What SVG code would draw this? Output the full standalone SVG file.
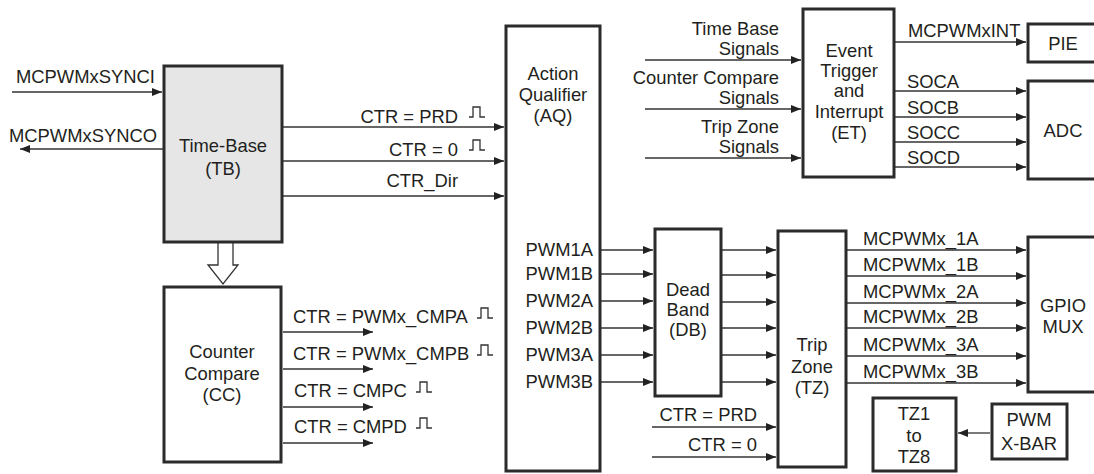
<svg xmlns="http://www.w3.org/2000/svg" width="1094" height="474" viewBox="0 0 1094 474">
<style>
.box{fill:#fff;stroke:#2b2b2b;stroke-width:3}
.tb{fill:#e6e6e6}
.ln{fill:none;stroke:#333;stroke-width:1.3;marker-end:url(#ah)}
text{font-family:"Liberation Sans",Arial,sans-serif;font-size:18.4px;fill:#231f20}
.m{text-anchor:middle}
.e{text-anchor:end}
</style>
<defs>
<marker id="ah" viewBox="0 0 10 8" refX="10" refY="4" markerWidth="10" markerHeight="8" orient="auto" markerUnits="userSpaceOnUse"><path d="M0,0 L10,4 L0,8 z" fill="#222"/></marker>
<path id="pulse" d="M0,10 h4 v-10 h7 v10 h5" fill="none" stroke="#333" stroke-width="1.3"/>
</defs>

<g id="connectors">
<line class="ln" x1="12" y1="92" x2="162" y2="92"/>
<line class="ln" x1="163" y1="149" x2="20" y2="149"/>
<line class="ln" x1="283" y1="127" x2="504" y2="127"/>
<line class="ln" x1="283" y1="161" x2="504" y2="161"/>
<line class="ln" x1="283" y1="196" x2="504" y2="196"/>
<path d="M218,243 V265 H208 L223,284 L238,265 H233 V243" fill="#fff" stroke="#333" stroke-width="1.3"/>
<line class="ln" x1="283" y1="332" x2="373" y2="332"/>
<line class="ln" x1="283" y1="369" x2="373" y2="369"/>
<line class="ln" x1="283" y1="407" x2="373" y2="407"/>
<line class="ln" x1="283" y1="443" x2="373" y2="443"/>
<line class="ln" x1="645" y1="60" x2="801" y2="60"/>
<line class="ln" x1="645" y1="109" x2="801" y2="109"/>
<line class="ln" x1="645" y1="158" x2="801" y2="158"/>
<line class="ln" x1="895" y1="42" x2="1026" y2="42"/>
<line class="ln" x1="895" y1="91" x2="1026" y2="91"/>
<line class="ln" x1="895" y1="117" x2="1026" y2="117"/>
<line class="ln" x1="895" y1="142" x2="1026" y2="142"/>
<line class="ln" x1="895" y1="167" x2="1026" y2="167"/>
<line class="ln" x1="601" y1="250" x2="653" y2="250"/>
<line class="ln" x1="601" y1="274" x2="653" y2="274"/>
<line class="ln" x1="601" y1="301" x2="653" y2="301"/>
<line class="ln" x1="601" y1="328" x2="653" y2="328"/>
<line class="ln" x1="601" y1="355" x2="653" y2="355"/>
<line class="ln" x1="601" y1="382" x2="653" y2="382"/>
<line class="ln" x1="722" y1="250" x2="776" y2="250"/>
<line class="ln" x1="722" y1="275" x2="776" y2="275"/>
<line class="ln" x1="722" y1="302" x2="776" y2="302"/>
<line class="ln" x1="722" y1="328" x2="776" y2="328"/>
<line class="ln" x1="722" y1="355" x2="776" y2="355"/>
<line class="ln" x1="722" y1="382" x2="776" y2="382"/>
<line class="ln" x1="652" y1="427" x2="776" y2="427"/>
<line class="ln" x1="652" y1="457" x2="776" y2="457"/>
<line class="ln" x1="847" y1="250" x2="1026" y2="250"/>
<line class="ln" x1="847" y1="276" x2="1026" y2="276"/>
<line class="ln" x1="847" y1="303" x2="1026" y2="303"/>
<line class="ln" x1="847" y1="328" x2="1026" y2="328"/>
<line class="ln" x1="847" y1="356" x2="1026" y2="356"/>
<line class="ln" x1="847" y1="383" x2="1026" y2="383"/>
<line class="ln" x1="990" y1="433" x2="958" y2="433"/>
</g>

<g id="tb">
<rect class="box tb" x="164" y="66" width="118" height="176"/>
<text class="m" x="223" y="152">Time-Base</text>
<text class="m" x="223" y="175">(TB)</text>
</g>
<g id="cc">
<rect class="box" x="164" y="287" width="117" height="175"/>
<text class="m" x="222" y="358">Counter</text>
<text class="m" x="222" y="380">Compare</text>
<text class="m" x="222" y="401">(CC)</text>
</g>
<g id="aq">
<rect class="box" x="506" y="26" width="94" height="445"/>
<text class="m" x="553" y="80">Action</text>
<text class="m" x="553" y="101">Qualifier</text>
<text class="m" x="553" y="122">(AQ)</text>
<text class="e" x="593" y="256">PWM1A</text>
<text class="e" x="593" y="280">PWM1B</text>
<text class="e" x="593" y="307">PWM2A</text>
<text class="e" x="593" y="334">PWM2B</text>
<text class="e" x="593" y="361">PWM3A</text>
<text class="e" x="593" y="388">PWM3B</text>
</g>
<g id="et">
<rect class="box" x="803" y="9" width="91" height="168"/>
<text class="m" x="849" y="57">Event</text>
<text class="m" x="849" y="77">Trigger</text>
<text class="m" x="849" y="97">and</text>
<text class="m" x="849" y="118">Interrupt</text>
<text class="m" x="849" y="139">(ET)</text>
</g>
<g id="pie">
<rect class="box" x="1028" y="24" width="80" height="38"/>
<text class="m" x="1063" y="50">PIE</text>
</g>
<g id="adc">
<rect class="box" x="1028" y="81" width="80" height="98"/>
<text class="m" x="1063" y="137">ADC</text>
</g>
<g id="db">
<rect class="box" x="655" y="229" width="66" height="167"/>
<text class="m" x="688" y="296">Dead</text>
<text class="m" x="688" y="316">Band</text>
<text class="m" x="688" y="336">(DB)</text>
</g>
<g id="tz">
<rect class="box" x="778" y="231" width="68" height="236"/>
<text class="m" x="812" y="351">Trip</text>
<text class="m" x="812" y="373">Zone</text>
<text class="m" x="812" y="394">(TZ)</text>
</g>
<g id="gpio">
<rect class="box" x="1028" y="237" width="80" height="155"/>
<text class="m" x="1063" y="312">GPIO</text>
<text class="m" x="1063" y="333">MUX</text>
</g>
<g id="tz18">
<rect class="box" x="873" y="398" width="83" height="73"/>
<text class="m" x="914" y="420">TZ1</text>
<text class="m" x="914" y="442">to</text>
<text class="m" x="914" y="463">TZ8</text>
</g>
<g id="xbar">
<rect class="box" x="992" y="404" width="75" height="55"/>
<text class="m" x="1029" y="426">PWM</text>
<text class="m" x="1029" y="450">X-BAR</text>
</g>

<g id="labels">
<text x="16" y="83">MCPWMxSYNCI</text>
<text x="9" y="142">MCPWMxSYNCO</text>
<text class="e" x="458" y="123">CTR = PRD</text>
<use href="#pulse" x="469" y="107"/>
<text class="e" x="458" y="156">CTR = 0</text>
<use href="#pulse" x="469" y="140"/>
<text class="e" x="458" y="187">CTR_Dir</text>
<text x="293" y="323">CTR = PWMx_CMPA</text>
<use href="#pulse" x="477" y="308"/>
<text x="293" y="360">CTR = PWMx_CMPB</text>
<use href="#pulse" x="477" y="345"/>
<text x="294" y="397">CTR = CMPC</text>
<use href="#pulse" x="416" y="382"/>
<text x="294" y="433">CTR = CMPD</text>
<use href="#pulse" x="416" y="418"/>
<text class="e" x="779" y="35">Time Base</text>
<text class="e" x="779" y="55">Signals</text>
<text class="e" x="779" y="84">Counter Compare</text>
<text class="e" x="779" y="104">Signals</text>
<text class="e" x="779" y="133">Trip Zone</text>
<text class="e" x="779" y="153">Signals</text>
<text x="908" y="37">MCPWMxINT</text>
<text x="907" y="88">SOCA</text>
<text x="907" y="114">SOCB</text>
<text x="907" y="139">SOCC</text>
<text x="907" y="164">SOCD</text>
<text class="e" x="757" y="421">CTR = PRD</text>
<text class="e" x="757" y="451">CTR = 0</text>
<text x="863" y="245">MCPWMx_1A</text>
<text x="863" y="271">MCPWMx_1B</text>
<text x="863" y="298">MCPWMx_2A</text>
<text x="863" y="323">MCPWMx_2B</text>
<text x="863" y="351">MCPWMx_3A</text>
<text x="863" y="378">MCPWMx_3B</text>
</g>
</svg>
